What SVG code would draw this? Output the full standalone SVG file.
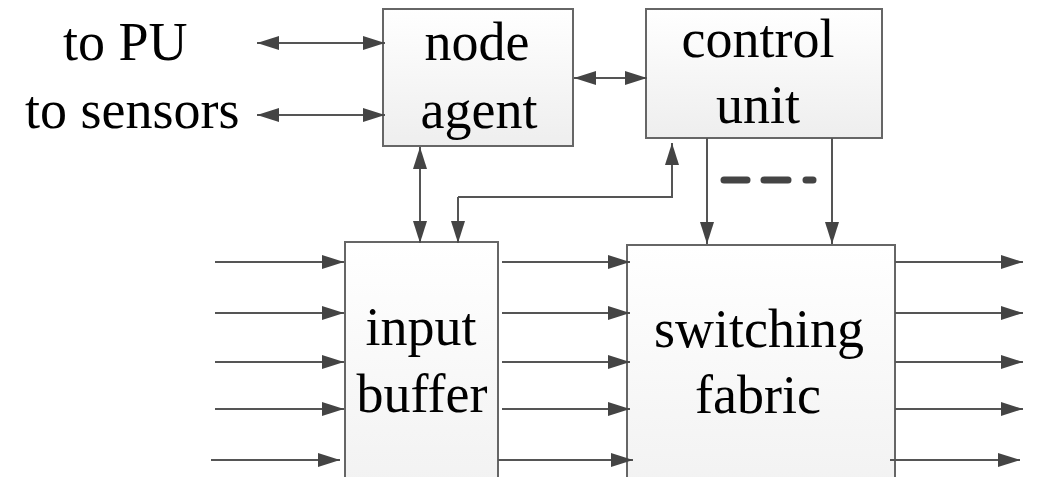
<svg xmlns="http://www.w3.org/2000/svg" width="1040" height="477" viewBox="0 0 1040 477">
  <defs>
    <linearGradient id="boxFill" x1="0" y1="0" x2="0" y2="1">
      <stop offset="0" stop-color="#ffffff"/>
      <stop offset="1" stop-color="#eeeeee"/>
    </linearGradient>
    <marker id="head" viewBox="0 0 22 14" refX="22" refY="7" markerWidth="22" markerHeight="14" markerUnits="userSpaceOnUse" orient="auto-start-reverse">
      <path d="M0,0 L22,7 L0,14 Z" fill="#444444"/>
    </marker>
  </defs>
  <style>
    .box { fill: url(#boxFill); stroke: #666666; stroke-width: 2; }
    text { font-family: 'Liberation Serif', 'Times New Roman', serif; font-size: 54px; fill: #000000; }
    .mid { text-anchor: middle; }
    .wire { fill: none; stroke: #555555; stroke-width: 2; }
    .one { marker-end: url(#head); }
    .two { marker-start: url(#head); marker-end: url(#head); }
    .dash { stroke: #444444; stroke-width: 7; stroke-linecap: round; }
  </style>

  <rect width="1040" height="477" fill="#ffffff"/>

  <!-- external labels -->
  <g id="labels">
    <text x="63" y="60">to PU</text>
    <text x="25" y="128">to sensors</text>
  </g>

  <!-- blocks -->
  <g id="node-agent">
    <rect class="box" x="383" y="9" width="190" height="137"/>
    <text class="mid" x="477" y="60">node</text>
    <text class="mid" x="479" y="128">agent</text>
  </g>
  <g id="control-unit">
    <rect class="box" x="646" y="9" width="236" height="129"/>
    <text class="mid" x="758" y="57">control</text>
    <text class="mid" x="758" y="123">unit</text>
  </g>
  <g id="input-buffer">
    <rect class="box" x="345" y="242" width="153" height="320"/>
    <text class="mid" x="421" y="345">input</text>
    <text class="mid" x="422" y="412">buffer</text>
  </g>
  <g id="switching-fabric">
    <rect class="box" x="627" y="245" width="268" height="320"/>
    <text class="mid" x="759" y="347">switching</text>
    <text class="mid" x="758" y="413">fabric</text>
  </g>

  <!-- connectors -->
  <g id="connectors">
    <line class="wire two" x1="257" y1="43" x2="385" y2="43"/>
    <line class="wire two" x1="257" y1="115" x2="385" y2="115"/>
    <line class="wire two" x1="574" y1="78" x2="647" y2="78"/>
    <line class="wire two" x1="420" y1="147" x2="420" y2="243"/>
    <line class="wire one" x1="458" y1="197" x2="458" y2="243"/>
    <polyline class="wire one" points="458,197 672,197 672,143"/>
    <line class="wire one" x1="707" y1="138" x2="707" y2="244"/>
    <line class="wire one" x1="832" y1="138" x2="832" y2="244"/>
    <line class="dash" x1="724" y1="180" x2="747" y2="180"/>
    <line class="dash" x1="764" y1="180" x2="788" y2="180"/>
    <line class="dash" x1="806" y1="180" x2="813" y2="180"/>

    <!-- inputs into the buffer -->
    <line class="wire one" x1="215" y1="262" x2="344" y2="262"/>
    <line class="wire one" x1="215" y1="313" x2="344" y2="313"/>
    <line class="wire one" x1="215" y1="362" x2="344" y2="362"/>
    <line class="wire one" x1="215" y1="409" x2="344" y2="409"/>
    <line class="wire one" x1="211" y1="460" x2="340" y2="460"/>

    <!-- buffer to fabric -->
    <line class="wire one" x1="502" y1="262" x2="630" y2="262"/>
    <line class="wire one" x1="502" y1="313" x2="630" y2="313"/>
    <line class="wire one" x1="502" y1="362" x2="630" y2="362"/>
    <line class="wire one" x1="502" y1="409" x2="630" y2="409"/>
    <line class="wire one" x1="498" y1="460" x2="633" y2="460"/>

    <!-- fabric outputs -->
    <line class="wire one" x1="895" y1="262" x2="1023" y2="262"/>
    <line class="wire one" x1="895" y1="313" x2="1023" y2="313"/>
    <line class="wire one" x1="895" y1="362" x2="1023" y2="362"/>
    <line class="wire one" x1="895" y1="409" x2="1023" y2="409"/>
    <line class="wire one" x1="890" y1="460" x2="1020" y2="460"/>
  </g>
</svg>
